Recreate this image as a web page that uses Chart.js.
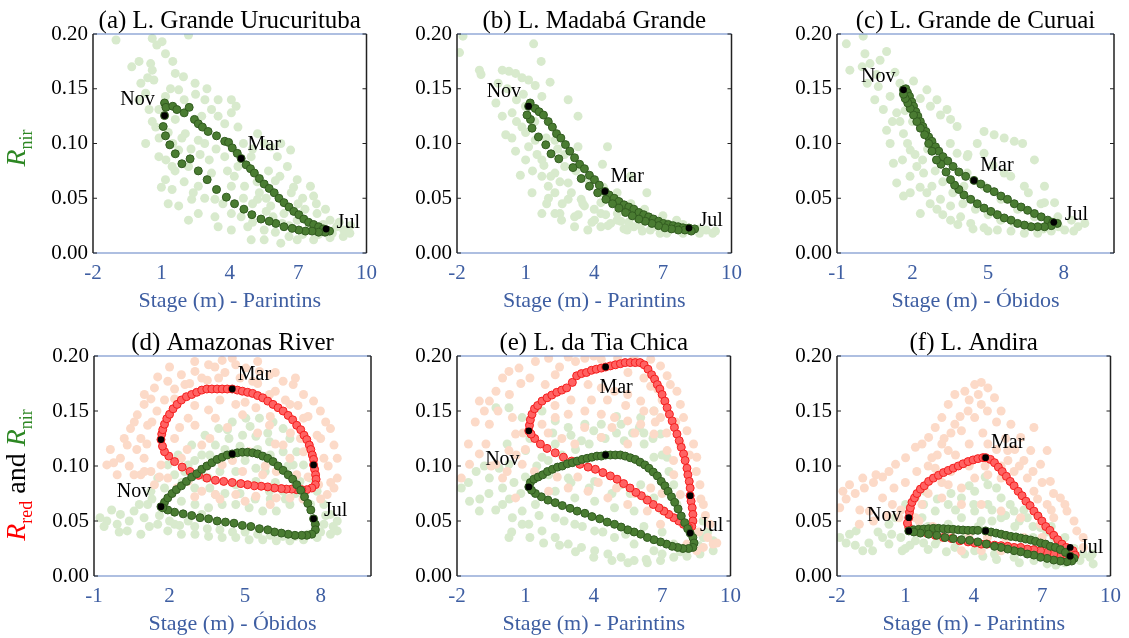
<!DOCTYPE html>
<html>
<head>
<meta charset="utf-8">
<script src="https://cdn.jsdelivr.net/npm/chart.js@4.4.1/dist/chart.umd.min.js"></script>
<style>
html, body { margin: 0; padding: 0; background: #fff; }
#wrap { position: relative; width: 1129px; height: 638px; overflow: hidden; }
canvas { position: absolute; }
</style>
</head>
<body>
<div id="wrap"></div>
<script>
// shared axis ticks
const yTicks = [0, 0.05, 0.10, 0.15, 0.20];
const xTicksParintins = [-2, 1, 4, 7, 10];
const xTicksObidos = [-1, 2, 5, 8];

// (a) L. Grande Urucurituba
const aLoop = [[1.14,0.1255],[1.14,0.137],[1.20,0.133],[1.50,0.134],[1.68,0.131],[2.0,0.128],[2.22,0.133],[2.45,0.122],[2.62,0.118],[2.80,0.115],[3.05,0.111],[3.42,0.107],[3.78,0.102],[3.95,0.101],[4.11,0.096],[4.33,0.091],[4.50,0.0863],[4.72,0.0805],[4.91,0.077],[5.08,0.073],[5.30,0.068],[5.51,0.063],[5.73,0.059],[5.95,0.055],[6.16,0.050],[6.38,0.046],[6.60,0.042],[6.81,0.038],[7.03,0.035],[7.25,0.031],[7.46,0.028],[7.68,0.026],[7.90,0.024],[8.11,0.022],[8.25,0.021],[8.38,0.020],[8.18,0.019],[7.90,0.019],[7.61,0.020],[7.32,0.020],[7.03,0.021],[6.74,0.0225],[6.38,0.024],[6.02,0.027],[5.73,0.029],[5.37,0.031],[4.97,0.035],[4.62,0.040],[4.21,0.045],[3.85,0.051],[3.42,0.058],[3.01,0.067],[2.62,0.075],[2.26,0.086],[1.90,0.0815],[1.61,0.0906],[1.37,0.0988],[1.18,0.107],[1.08,0.1155]];
const aCloud = [[-0.99,0.1945],[0.60,0.196],[1.03,0.193],[2.19,0.199],[0.02,0.175],[0.53,0.173],[0.60,0.167],[0.67,0.158],[0.31,0.146],[1.18,0.182],[1.61,0.164],[1.97,0.161],[2.48,0.155],[2.91,0.140],[3.20,0.131],[3.49,0.125],[4.07,0.128],[4.28,0.134],[2.77,0.125],[2.62,0.103],[2.05,0.109],[1.61,0.122],[0.31,0.100],[1.18,0.067],[1.47,0.058],[1.76,0.043],[2.19,0.030],[2.62,0.036],[3.35,0.049],[3.49,0.024],[4.07,0.021],[4.94,0.012],[5.51,0.012],[6.24,0.009],[6.96,0.012],[7.68,0.012],[8.40,0.014],[8.98,0.015],[9.27,0.018],[7.54,0.061],[7.68,0.052],[6.96,0.067],[6.53,0.079],[6.09,0.088],[6.67,0.094],[5.51,0.100],[6.24,0.100],[5.22,0.109],[4.36,0.115],[3.78,0.118],[4.07,0.140],[3.49,0.140],[1.76,0.094],[2.19,0.079],[2.62,0.061],[3.20,0.073],[3.78,0.088],[4.36,0.079],[4.65,0.061],[4.07,0.061],[5.22,0.049],[5.80,0.043],[6.38,0.036],[6.96,0.030],[7.83,0.036],[8.40,0.030],[8.69,0.024],[3.35,0.033],[4.07,0.036],[4.79,0.024],[5.51,0.021],[2.33,0.049],[1.47,0.079],[0.89,0.088],[0.75,0.115],[0.89,0.131],[0.46,0.131],[0.02,0.140],[1.18,0.143],[1.76,0.149],[4.94,0.088],[5.80,0.097],[7.9,0.017],[8.5,0.018],[9.0,0.021],[7.2,0.017],[6.6,0.015],[6.0,0.019],[5.0,0.028],[4.5,0.033],[5.6,0.038],[6.3,0.027],[7.0,0.045],[7.3,0.040],[6.7,0.055],[6.0,0.066],[1.3,0.11],[1.5,0.10],[1.9,0.105],[2.3,0.095],[2.7,0.09],[3.1,0.085],[3.4,0.095],[2.9,0.10],[1.2,0.085],[1.6,0.075],[2.0,0.065],[2.4,0.055],[2.9,0.05],[3.7,0.045],[3.9,0.075],[4.2,0.07],[4.6,0.05],[5.0,0.045],[5.3,0.055],[5.6,0.05],[5.9,0.033],[6.6,0.025],[7.5,0.022],[8.1,0.026],[8.8,0.028],[9.3,0.025],[5.2,0.065],[5.7,0.075],[6.2,0.07],[6.8,0.06],[7.2,0.05],[7.8,0.045],[8.2,0.04],[4.6,0.1],[5.0,0.095],[0.4,0.16],[0.1,0.155],[-0.3,0.17],[0.8,0.19],[1.5,0.175],[2.5,0.145],[3.0,0.15],[2.0,0.14],[1.4,0.15],[0.6,0.12],[0.9,0.105],[1.3,0.045],[1.0,0.06]];
const aMarks = [[1.14,0.1255],[4.50,0.0863],[8.23,0.0219]];
const aMonths = [['Nov',-0.05,0.140],['Mar',5.51,0.0988],['Jul',9.2,0.028]];

// (b) L. Madabá Grande
const bLoop = [[1.13,0.134],[1.20,0.137],[1.42,0.132],[1.59,0.129],[1.78,0.126],[1.99,0.120],[2.17,0.115],[2.35,0.109],[2.54,0.105],[2.74,0.099],[2.93,0.093],[3.14,0.087],[3.36,0.081],[3.57,0.077],[3.79,0.071],[4.01,0.067],[4.22,0.062],[4.47,0.0562],[4.65,0.053],[4.87,0.050],[5.08,0.047],[5.30,0.044],[5.51,0.042],[5.73,0.040],[5.95,0.037],[6.16,0.035],[6.38,0.033],[6.59,0.031],[6.81,0.029],[7.02,0.027],[7.24,0.026],[7.45,0.025],[7.67,0.024],[7.88,0.023],[8.14,0.0228],[8.39,0.022],[8.24,0.020],[7.96,0.021],[7.67,0.021],[7.38,0.022],[7.09,0.023],[6.81,0.025],[6.52,0.027],[6.23,0.029],[5.95,0.031],[5.66,0.034],[5.37,0.037],[5.08,0.041],[4.80,0.045],[4.51,0.049],[4.15,0.055],[3.79,0.061],[3.43,0.068],[3.07,0.078],[2.45,0.086],[2.11,0.0906],[1.88,0.0988],[1.56,0.106],[1.28,0.114],[1.21,0.122],[1.06,0.126]];
const bCloud = [[-1.74,0.198],[-1.89,0.183],[-1.02,0.167],[-0.95,0.163],[-0.02,0.167],[0.27,0.166],[0.56,0.164],[0.84,0.160],[1.13,0.158],[1.42,0.153],[1.35,0.191],[1.68,0.175],[2.07,0.156],[2.86,0.140],[3.29,0.125],[4.58,0.097],[4.36,0.081],[5.59,0.070],[6.30,0.055],[-0.30,0.137],[-0.02,0.125],[0.13,0.108],[0.56,0.093],[0.77,0.071],[1.28,0.055],[1.71,0.070],[1.92,0.045],[2.28,0.055],[2.50,0.036],[2.86,0.049],[3.14,0.033],[3.57,0.043],[4.01,0.030],[4.29,0.036],[4.72,0.027],[5.16,0.029],[5.73,0.024],[6.45,0.021],[7.17,0.018],[7.88,0.018],[8.60,0.018],[9.18,0.018],[8.89,0.021],[2.86,0.064],[2.28,0.073],[1.71,0.085],[1.13,0.097],[1.42,0.103],[0.84,0.115],[0.41,0.128],[0.99,0.134],[1.71,0.143],[3.43,0.049],[4.29,0.046],[5.01,0.036],[5.73,0.033],[6.45,0.030],[7.17,0.027],[7.88,0.026],[6.88,0.018],[5.44,0.021],[4.29,0.024],[3.72,0.021],[3.14,0.024],[2.57,0.030],[2.28,0.036],[1.99,0.061],[1.71,0.036],[3.29,0.097],[4.29,0.055],[2.28,0.103],[2.71,0.079],[1.5,0.09],[1.8,0.08],[2.1,0.07],[2.5,0.065],[3.0,0.055],[3.5,0.045],[4.0,0.04],[4.5,0.035],[5.0,0.03],[5.5,0.028],[6.0,0.025],[6.6,0.024],[7.3,0.022],[8.0,0.021],[8.6,0.022],[9.3,0.02],[1.0,0.11],[0.6,0.14],[0.2,0.15],[-0.2,0.155],[0.9,0.145],[1.4,0.12],[1.9,0.105],[2.4,0.095],[2.7,0.09],[3.2,0.075],[3.8,0.065],[4.4,0.06],[5.0,0.055],[5.6,0.045],[6.2,0.04],[7.0,0.034],[7.6,0.03],[1.3,0.075],[1.0,0.085],[2.0,0.05],[2.6,0.045],[3.3,0.035],[3.9,0.028],[4.6,0.025],[5.3,0.022],[6.1,0.02],[0.4,0.105],[0.6,0.12]];
const bMarks = [[1.13,0.134],[4.47,0.0562],[8.14,0.0228]];
const bMonths = [['Nov',0.05,0.147],['Mar',5.44,0.070],['Jul',9.11,0.029]];

// (c) L. Grande de Curuai
const cLoop = [[1.64,0.149],[1.73,0.150],[1.80,0.1465],[1.88,0.143],[1.97,0.138],[2.04,0.134],[2.13,0.129],[2.21,0.125],[2.31,0.120],[2.41,0.1155],[2.53,0.111],[2.64,0.106],[2.77,0.102],[2.91,0.097],[3.04,0.093],[3.21,0.088],[3.40,0.084],[3.61,0.079],[3.84,0.074],[4.11,0.070],[4.44,0.0663],[4.71,0.063],[4.97,0.059],[5.24,0.056],[5.51,0.052],[5.77,0.049],[6.04,0.045],[6.31,0.042],[6.57,0.039],[6.84,0.036],[7.11,0.033],[7.37,0.030],[7.57,0.028],[7.75,0.027],[7.51,0.025],[7.24,0.024],[6.97,0.024],[6.71,0.024],[6.44,0.0255],[6.17,0.027],[5.91,0.030],[5.64,0.032],[5.37,0.035],[5.11,0.038],[4.84,0.041],[4.57,0.045],[4.31,0.049],[4.04,0.053],[3.84,0.058],[3.67,0.062],[3.51,0.067],[3.33,0.074],[3.13,0.081],[2.95,0.085],[2.77,0.093],[2.64,0.100],[2.48,0.108],[2.31,0.114],[2.17,0.120],[2.04,0.126],[1.91,0.132],[1.81,0.137],[1.71,0.141],[1.64,0.145]];
const cCloud = [[-0.63,0.191],[0.04,0.198],[-0.49,0.167],[0.11,0.182],[0.31,0.173],[0.71,0.176],[0.97,0.184],[0.57,0.163],[0.64,0.152],[0.84,0.131],[0.97,0.112],[1.11,0.100],[1.24,0.082],[1.37,0.064],[1.64,0.052],[1.91,0.055],[1.11,0.143],[1.37,0.128],[1.64,0.109],[1.91,0.094],[2.17,0.079],[2.44,0.073],[2.77,0.061],[3.11,0.049],[3.51,0.043],[3.91,0.033],[4.31,0.027],[4.84,0.023],[5.37,0.021],[5.91,0.020],[6.44,0.018],[6.97,0.018],[7.51,0.020],[8.04,0.021],[8.57,0.024],[8.84,0.027],[8.31,0.030],[7.64,0.046],[7.24,0.061],[6.84,0.085],[6.37,0.100],[6.04,0.102],[5.64,0.105],[5.24,0.108],[4.84,0.111],[4.57,0.100],[4.17,0.088],[3.77,0.1155],[3.51,0.122],[3.11,0.126],[2.71,0.134],[2.31,0.141],[2.04,0.157],[2.57,0.149],[2.97,0.140],[3.37,0.131],[3.77,0.091],[4.17,0.073],[4.84,0.061],[5.51,0.049],[6.17,0.040],[6.84,0.033],[2.97,0.040],[3.51,0.030],[2.57,0.055],[2.31,0.036],[4.84,0.091],[5.64,0.073],[6.44,0.061],[7.24,0.046],[7.77,0.033],[4.04,0.061],[1.2,0.12],[1.5,0.12],[1.8,0.1],[2.1,0.09],[2.4,0.085],[2.6,0.095],[2.9,0.075],[3.2,0.065],[3.6,0.055],[4.0,0.045],[4.5,0.04],[5.0,0.035],[5.5,0.03],[6.0,0.028],[6.6,0.025],[7.2,0.022],[7.8,0.024],[8.4,0.02],[1.6,0.085],[1.9,0.07],[2.3,0.06],[2.7,0.045],[3.2,0.035],[3.8,0.026],[4.4,0.022],[5.0,0.02],[1.7,0.13],[2.0,0.12],[3.5,0.1],[4.2,0.09],[5.2,0.08],[5.9,0.07],[6.6,0.055],[7.1,0.045],[0.2,0.155],[0.5,0.14],[0.0,0.17],[1.3,0.165],[1.5,0.155]];
const cMarks = [[1.64,0.149],[4.44,0.0663],[7.61,0.028]];
const cMonths = [['Nov',0.64,0.161],['Mar',5.35,0.0796],['Jul',8.51,0.035]];

// (d) Amazonas River
const dRedLoop = [[1.66,0.124],[1.69,0.129],[1.73,0.133],[1.80,0.138],[1.89,0.143],[2.00,0.147],[2.14,0.152],[2.30,0.156],[2.47,0.160],[2.67,0.163],[2.88,0.165],[3.08,0.167],[3.28,0.169],[3.48,0.170],[3.68,0.170],[3.89,0.170],[4.09,0.170],[4.29,0.170],[4.49,0.170],[4.69,0.169],[4.89,0.168],[5.10,0.167],[5.30,0.166],[5.50,0.164],[5.70,0.162],[5.90,0.159],[6.11,0.156],[6.31,0.153],[6.51,0.150],[6.71,0.146],[6.89,0.142],[7.05,0.137],[7.21,0.133],[7.34,0.128],[7.45,0.124],[7.55,0.119],[7.61,0.115],[7.67,0.110],[7.72,0.106],[7.72,0.101],[7.76,0.097],[7.80,0.092],[7.82,0.088],[7.79,0.083],[7.65,0.080],[7.45,0.0785],[7.25,0.0785],[7.05,0.0785],[6.85,0.079],[6.64,0.079],[6.44,0.0795],[6.17,0.080],[5.90,0.081],[5.64,0.0816],[5.37,0.082],[5.10,0.083],[4.83,0.084],[4.49,0.085],[4.15,0.086],[3.82,0.087],[3.48,0.089],[3.15,0.0915],[2.81,0.095],[2.50,0.099],[2.20,0.104],[1.97,0.109],[1.80,0.113],[1.72,0.118]];
const dGreenLoop = [[1.66,0.063],[1.80,0.067],[1.93,0.071],[2.10,0.075],[2.27,0.0785],[2.47,0.082],[2.67,0.086],[2.88,0.090],[3.08,0.093],[3.28,0.097],[3.48,0.100],[3.68,0.103],[3.89,0.106],[4.09,0.108],[4.29,0.110],[4.49,0.111],[4.69,0.112],[4.89,0.1125],[5.10,0.1125],[5.30,0.112],[5.50,0.111],[5.70,0.109],[5.90,0.107],[6.11,0.104],[6.31,0.100],[6.51,0.096],[6.71,0.092],[6.89,0.088],[7.05,0.083],[7.21,0.078],[7.36,0.072],[7.49,0.066],[7.61,0.060],[7.72,0.052],[7.79,0.047],[7.79,0.042],[7.65,0.038],[7.45,0.037],[7.25,0.037],[6.98,0.037],[6.71,0.038],[6.44,0.039],[6.17,0.040],[5.90,0.042],[5.57,0.043],[5.23,0.045],[4.89,0.046],[4.56,0.048],[4.22,0.049],[3.89,0.050],[3.55,0.052],[3.21,0.053],[2.88,0.055],[2.54,0.0565],[2.20,0.058],[1.93,0.060],[1.73,0.062]];
const dRedCloud = [[-0.35,0.115],[-0.22,0.103],[-0.49,0.101],[0.05,0.107],[0.32,0.119],[0.45,0.134],[0.72,0.1465],[0.99,0.156],[1.40,0.171],[1.53,0.181],[1.93,0.177],[2.47,0.183],[3.01,0.186],[3.55,0.192],[4.09,0.196],[4.49,0.198],[4.63,0.192],[5.03,0.189],[5.57,0.186],[5.97,0.183],[6.51,0.177],[6.91,0.174],[7.32,0.165],[7.72,0.159],[7.99,0.150],[8.39,0.134],[8.53,0.119],[8.66,0.107],[8.66,0.089],[8.53,0.080],[8.26,0.074],[7.92,0.083],[8.13,0.107],[7.86,0.128],[7.32,0.1435],[6.78,0.156],[5.97,0.165],[5.30,0.177],[3.28,0.180],[2.61,0.174],[1.13,0.137],[0.86,0.125],[0.99,0.107],[1.26,0.095],[0.86,0.092],[1.93,0.089],[2.74,0.086],[3.28,0.077],[3.82,0.074],[4.63,0.074],[5.43,0.0725],[6.24,0.071],[6.78,0.071],[2.74,0.1435],[2.20,0.125],[3.28,0.119],[4.09,0.101],[4.90,0.095],[5.70,0.092],[6.24,0.095],[6.78,0.107],[6.51,0.119],[5.97,0.137],[4.90,0.1465],[3.82,0.1435],[3.01,0.137],[3.55,0.151],[4.63,0.156],[5.43,0.153],[2.47,0.107],[1.66,0.101],[-0.08,0.092],[0.59,0.092],[1.40,0.083],[2.20,0.161],[5.16,0.113],[7.32,0.113],[7.05,0.092],[3.95,0.180],[1.26,0.161],[0.7,0.115],[1.1,0.12],[1.3,0.14],[1.5,0.15],[1.8,0.16],[2.2,0.17],[2.8,0.175],[3.5,0.178],[4.2,0.185],[4.8,0.18],[5.5,0.175],[6.2,0.168],[6.6,0.16],[7.1,0.155],[7.5,0.145],[8.0,0.125],[8.3,0.1],[8.4,0.085],[8.0,0.07],[7.3,0.07],[6.0,0.065],[5.0,0.068],[4.0,0.07],[3.0,0.072],[2.3,0.08],[1.6,0.09],[1.0,0.095],[0.4,0.1],[0.2,0.125],[0.6,0.14],[1.0,0.165],[2.0,0.19],[3.0,0.195],[3.8,0.19],[5.5,0.195],[6.2,0.185],[7.0,0.18],[8.2,0.14],[2.4,0.135],[3.0,0.155],[4.0,0.16],[5.0,0.158],[6.0,0.145],[6.8,0.13],[7.2,0.125],[4.3,0.135],[3.6,0.125],[2.7,0.115],[5.5,0.13],[6.2,0.12],[7.5,0.09],[3.5,0.1],[4.5,0.105],[5.8,0.1]];
const dGreenCloud = [[-0.76,0.053],[-0.49,0.050],[-0.08,0.047],[0.32,0.041],[0.86,0.038],[0.05,0.056],[0.59,0.059],[1.13,0.065],[0.99,0.053],[1.53,0.047],[1.93,0.041],[2.47,0.038],[3.01,0.038],[3.55,0.036],[4.09,0.035],[4.63,0.035],[5.16,0.033],[5.70,0.033],[6.24,0.032],[6.78,0.032],[7.32,0.033],[7.86,0.035],[8.39,0.038],[8.66,0.041],[8.66,0.050],[8.39,0.056],[8.13,0.065],[7.86,0.077],[7.59,0.089],[7.32,0.101],[7.05,0.113],[6.78,0.125],[6.51,0.134],[6.11,0.140],[5.57,0.1435],[5.03,0.1435],[4.49,0.140],[3.95,0.134],[3.41,0.128],[2.88,0.119],[2.34,0.110],[1.93,0.101],[1.53,0.089],[1.26,0.077],[2.20,0.092],[2.74,0.101],[3.28,0.110],[3.82,0.119],[4.36,0.125],[4.90,0.128],[5.43,0.127],[5.97,0.122],[6.51,0.113],[6.91,0.101],[7.18,0.086],[7.32,0.071],[6.78,0.065],[6.24,0.059],[5.70,0.059],[5.16,0.062],[4.63,0.065],[4.09,0.065],[3.55,0.062],[3.01,0.065],[2.47,0.068],[2.20,0.047],[2.74,0.050],[3.28,0.056],[3.82,0.074],[4.63,0.083],[5.43,0.086],[5.97,0.077],[6.51,0.077],[8.13,0.047],[7.86,0.041],[4.63,0.095],[5.43,0.098],[3.55,0.089],[0.4,0.05],[1.2,0.045],[1.6,0.055],[2.0,0.05],[2.4,0.046],[3.0,0.045],[3.5,0.043],[4.0,0.042],[4.5,0.04],[5.0,0.04],[5.5,0.038],[6.0,0.037],[6.5,0.036],[7.0,0.036],[7.5,0.038],[8.0,0.04],[8.5,0.045],[-0.3,0.06],[0.8,0.065],[1.3,0.07],[1.8,0.08],[2.5,0.085],[3.0,0.08],[3.6,0.08],[4.2,0.075],[4.8,0.075],[5.4,0.07],[6.0,0.07],[6.6,0.07],[7.6,0.065],[8.2,0.055],[3.0,0.105],[3.6,0.11],[4.2,0.115],[4.8,0.118],[5.5,0.115],[6.0,0.11],[4.3,0.133],[5.2,0.136],[5.9,0.13],[6.7,0.1],[7.0,0.075],[2.6,0.095],[3.4,0.09],[4.0,0.095],[5.0,0.105],[5.8,0.095],[6.2,0.085],[-0.6,0.045],[0.0,0.04]];
const dMarks = [[1.66,0.124],[4.49,0.170],[7.72,0.101],[1.66,0.063],[4.49,0.111],[7.72,0.052]];
const dMonths = [['Nov',0.59,0.077],['Mar',5.37,0.183],['Jul',8.60,0.059]];

// (e) L. da Tia Chica
const eRedLoop = [[1.15,0.132],[1.18,0.137],[1.22,0.142],[1.29,0.147],[1.40,0.152],[1.54,0.155],[1.73,0.159],[1.95,0.162],[2.16,0.1645],[2.38,0.167],[2.60,0.169],[2.81,0.171],[3.06,0.176],[3.25,0.182],[3.46,0.184],[3.68,0.185],[3.90,0.187],[4.11,0.188],[4.33,0.189],[4.52,0.190],[4.73,0.191],[4.95,0.192],[5.17,0.193],[5.38,0.194],[5.60,0.194],[5.82,0.194],[6.03,0.194],[6.21,0.192],[6.38,0.188],[6.54,0.183],[6.67,0.179],[6.79,0.174],[6.90,0.170],[7.00,0.165],[7.12,0.159],[7.22,0.153],[7.32,0.147],[7.44,0.141],[7.54,0.135],[7.65,0.129],[7.75,0.123],[7.84,0.117],[7.94,0.111],[8.01,0.105],[8.09,0.098],[8.13,0.092],[8.19,0.086],[8.23,0.080],[8.23,0.073],[8.27,0.068],[8.32,0.062],[8.35,0.056],[8.35,0.050],[8.30,0.045],[8.16,0.044],[7.94,0.047],[7.73,0.050],[7.51,0.053],[7.29,0.056],[7.08,0.059],[6.86,0.062],[6.61,0.065],[6.35,0.069],[6.09,0.073],[5.85,0.076],[5.59,0.080],[5.31,0.084],[5.02,0.088],[4.73,0.091],[4.40,0.094],[4.07,0.097],[3.75,0.099],[3.39,0.1015],[3.03,0.1045],[2.67,0.108],[2.31,0.112],[1.95,0.116],[1.66,0.120],[1.41,0.125],[1.25,0.129]];
const eGreenLoop = [[1.15,0.081],[1.22,0.085],[1.37,0.088],[1.56,0.090],[1.76,0.092],[1.97,0.095],[2.19,0.097],[2.41,0.099],[2.62,0.100],[2.84,0.102],[3.06,0.103],[3.27,0.1045],[3.49,0.106],[3.71,0.107],[3.92,0.108],[4.14,0.109],[4.33,0.109],[4.52,0.110],[4.73,0.110],[4.95,0.110],[5.17,0.110],[5.38,0.109],[5.60,0.1075],[5.82,0.106],[6.03,0.1035],[6.24,0.101],[6.42,0.098],[6.61,0.0945],[6.79,0.091],[6.96,0.086],[7.12,0.082],[7.26,0.077],[7.41,0.072],[7.55,0.067],[7.70,0.061],[7.84,0.0545],[7.99,0.0485],[8.12,0.043],[8.23,0.039],[8.35,0.035],[8.40,0.030],[8.35,0.026],[8.16,0.025],[7.91,0.025],[7.68,0.026],[7.44,0.027],[7.19,0.029],[6.93,0.031],[6.64,0.033],[6.35,0.035],[6.06,0.038],[5.77,0.040],[5.49,0.042],[5.20,0.0445],[4.91,0.047],[4.59,0.049],[4.26,0.052],[3.92,0.054],[3.61,0.057],[3.27,0.059],[2.96,0.0615],[2.62,0.064],[2.31,0.0667],[1.99,0.069],[1.70,0.072],[1.44,0.075],[1.27,0.078]];
const eRedCloud = [[-1.81,0.089],[-1.45,0.1015],[-1.02,0.111],[-0.73,0.120],[-1.02,0.159],[-0.58,0.159],[-0.29,0.168],[0.0,0.180],[0.28,0.186],[0.72,0.189],[1.44,0.195],[2.02,0.198],[2.88,0.199],[3.61,0.198],[4.33,0.197],[5.05,0.198],[5.77,0.199],[6.50,0.197],[6.93,0.191],[7.22,0.182],[7.36,0.174],[7.65,0.168],[7.80,0.156],[7.94,0.144],[8.09,0.132],[8.38,0.120],[8.52,0.108],[8.66,0.083],[8.81,0.065],[9.10,0.047],[9.24,0.029],[8.81,0.026],[8.52,0.023],[6.64,0.129],[6.06,0.138],[5.49,0.141],[4.91,0.144],[4.33,0.147],[3.61,0.150],[2.88,0.147],[2.31,0.144],[1.73,0.138],[6.64,0.150],[6.06,0.159],[5.49,0.165],[4.91,0.168],[4.33,0.171],[3.75,0.174],[6.50,0.1725],[6.93,0.144],[7.22,0.114],[7.51,0.092],[7.80,0.074],[0.43,0.144],[0.57,0.129],[0.28,0.114],[-0.29,0.1015],[0.0,0.089],[0.57,0.071],[0.86,0.1015],[2.02,0.077],[2.88,0.080],[3.75,0.077],[4.62,0.071],[5.49,0.065],[6.35,0.059],[6.93,0.047],[8.09,0.029],[3.17,0.120],[4.33,0.126],[5.49,0.120],[1.87,0.174],[2.31,0.183],[-0.58,0.138],[-1.5,0.12],[-1.2,0.14],[-0.8,0.15],[-0.2,0.15],[0.3,0.165],[0.8,0.175],[1.2,0.18],[2.5,0.19],[3.2,0.195],[4.0,0.2],[5.5,0.185],[6.2,0.18],[6.8,0.17],[7.0,0.16],[7.6,0.14],[7.8,0.12],[8.2,0.11],[8.5,0.095],[8.7,0.07],[8.9,0.055],[9.0,0.035],[9.4,0.03],[8.6,0.04],[0.9,0.13],[1.0,0.115],[0.6,0.11],[0.2,0.095],[-0.5,0.1],[1.4,0.095],[2.4,0.09],[3.3,0.09],[4.2,0.085],[5.0,0.08],[5.8,0.075],[6.5,0.08],[7.0,0.075],[2.3,0.155],[3.0,0.16],[3.9,0.16],[4.6,0.16],[5.4,0.155],[6.2,0.15],[6.7,0.14],[7.2,0.13],[7.5,0.105],[2.0,0.13],[2.6,0.125],[3.6,0.135],[4.8,0.135],[5.8,0.13]];
const eGreenCloud = [[-1.81,0.080],[-1.45,0.068],[-1.02,0.059],[-1.16,0.095],[-0.58,0.089],[-0.15,0.098],[0.0,0.065],[0.43,0.053],[0.86,0.059],[1.15,0.047],[1.73,0.041],[2.31,0.035],[2.88,0.029],[3.46,0.026],[4.04,0.023],[4.62,0.020],[5.20,0.017],[5.77,0.014],[6.35,0.012],[6.93,0.014],[7.51,0.017],[8.09,0.018],[8.66,0.020],[9.24,0.023],[9.24,0.032],[8.81,0.035],[-0.29,0.153],[0.28,0.153],[0.86,0.144],[1.73,0.150],[2.31,0.141],[2.88,0.135],[3.61,0.138],[4.33,0.138],[5.20,0.138],[6.06,0.144],[6.64,0.150],[6.93,0.129],[7.22,0.108],[7.51,0.083],[7.65,0.065],[3.46,0.123],[4.33,0.126],[5.34,0.123],[6.21,0.120],[6.64,0.108],[2.31,0.120],[1.73,0.108],[1.01,0.114],[0.28,0.1015],[2.02,0.092],[2.88,0.089],[4.04,0.086],[5.20,0.083],[6.06,0.083],[6.64,0.071],[5.77,0.059],[4.91,0.062],[4.04,0.068],[3.17,0.071],[2.31,0.077],[1.44,0.065],[2.31,0.053],[3.17,0.047],[4.04,0.041],[4.91,0.035],[5.77,0.029],[6.64,0.023],[7.51,0.029],[0.86,0.047],[0.28,0.035],[0.0,0.08],[0.5,0.085],[1.0,0.09],[1.5,0.1],[2.0,0.105],[2.6,0.11],[3.2,0.115],[3.8,0.12],[4.5,0.125],[5.0,0.13],[5.7,0.13],[6.2,0.13],[6.6,0.125],[7.0,0.11],[7.3,0.095],[-0.6,0.075],[-1.0,0.07],[-0.3,0.06],[0.3,0.07],[0.8,0.075],[0.4,0.04],[1.2,0.035],[1.8,0.03],[2.5,0.028],[3.2,0.022],[4.0,0.017],[4.8,0.014],[5.5,0.012],[6.3,0.015],[7.0,0.02],[7.8,0.022],[8.6,0.028],[9.0,0.04],[8.8,0.05],[1.6,0.055],[2.7,0.05],[3.5,0.045],[4.4,0.04],[5.4,0.038],[6.2,0.045],[7.0,0.04],[3.0,0.085],[3.8,0.08],[4.8,0.075],[5.6,0.075],[6.3,0.07],[7.0,0.06],[2.2,0.13],[3.0,0.128],[4.0,0.132],[5.0,0.145],[6.0,0.135],[1.2,0.125],[0.2,0.12],[-0.8,0.1],[-1.5,0.085]];
const eMarks = [[1.15,0.132],[4.52,0.190],[8.23,0.073],[1.15,0.081],[4.52,0.110],[8.23,0.039]];
const eMonths = [['Nov',-0.01,0.106],['Mar',4.98,0.171],['Jul',9.17,0.0455]];

// (f) L. Andira
const fRedLoop = [[1.15,0.053],[1.18,0.058],[1.22,0.062],[1.29,0.067],[1.40,0.071],[1.51,0.075],[1.66,0.079],[1.83,0.082],[2.02,0.086],[2.23,0.089],[2.45,0.0915],[2.67,0.094],[2.88,0.096],[3.10,0.098],[3.32,0.100],[3.53,0.102],[3.75,0.104],[3.97,0.1055],[4.18,0.1067],[4.40,0.1076],[4.52,0.1076],[4.73,0.106],[4.91,0.103],[5.08,0.099],[5.25,0.095],[5.43,0.0906],[5.60,0.086],[5.77,0.082],[5.95,0.077],[6.12,0.073],[6.29,0.068],[6.47,0.064],[6.64,0.059],[6.82,0.0545],[6.99,0.050],[7.16,0.045],[7.34,0.0415],[7.51,0.037],[7.68,0.033],[7.87,0.029],[8.06,0.026],[8.35,0.023],[8.45,0.019],[8.30,0.017],[8.09,0.018],[7.80,0.019],[7.51,0.020],[7.22,0.0215],[6.93,0.023],[6.64,0.024],[6.35,0.0245],[6.06,0.026],[5.77,0.026],[5.49,0.027],[5.20,0.0276],[4.91,0.028],[4.59,0.029],[4.33,0.029],[4.04,0.030],[3.75,0.031],[3.39,0.032],[3.03,0.034],[2.67,0.035],[2.31,0.037],[1.95,0.039],[1.61,0.040],[1.33,0.041],[1.15,0.044],[1.09,0.048]];
const fGreenLoop = [[1.15,0.041],[1.37,0.042],[1.58,0.0424],[1.80,0.0427],[2.02,0.043],[2.23,0.0433],[2.45,0.0433],[2.67,0.043],[2.88,0.0427],[3.10,0.0424],[3.32,0.042],[3.53,0.0418],[3.75,0.0415],[3.97,0.0415],[4.18,0.0415],[4.52,0.041],[4.76,0.040],[4.98,0.039],[5.20,0.038],[5.41,0.037],[5.63,0.036],[5.85,0.0355],[6.06,0.0345],[6.28,0.0336],[6.50,0.0327],[6.71,0.0315],[6.93,0.030],[7.15,0.029],[7.36,0.027],[7.58,0.026],[7.80,0.024],[8.02,0.0215],[8.23,0.018],[8.40,0.016],[8.30,0.0136],[8.09,0.013],[7.80,0.0136],[7.51,0.0145],[7.22,0.016],[6.93,0.017],[6.64,0.019],[6.35,0.020],[6.06,0.022],[5.77,0.023],[5.49,0.0245],[5.20,0.026],[4.91,0.027],[4.55,0.029],[4.18,0.031],[3.82,0.0324],[3.46,0.033],[3.10,0.034],[2.74,0.035],[2.38,0.037],[2.02,0.038],[1.66,0.039],[1.37,0.040]];
const fRedCloud = [[-1.88,0.062],[-1.74,0.077],[-1.45,0.083],[-0.87,0.089],[-0.29,0.092],[0.28,0.095],[0.57,0.1015],[1.01,0.1075],[1.44,0.117],[1.73,0.120],[2.02,0.126],[2.31,0.135],[2.60,0.144],[2.88,0.156],[3.17,0.165],[3.61,0.168],[4.04,0.174],[4.33,0.176],[4.62,0.171],[4.91,0.162],[5.20,0.150],[5.63,0.138],[6.06,0.126],[6.50,0.114],[6.93,0.1015],[7.36,0.086],[7.80,0.071],[8.09,0.059],[8.52,0.041],[8.81,0.026],[-1.02,0.047],[-0.58,0.059],[0.0,0.071],[0.43,0.065],[0.72,0.053],[2.16,0.1075],[2.88,0.114],[3.46,0.132],[4.04,0.144],[4.33,0.156],[3.75,0.150],[3.17,0.138],[2.60,0.120],[2.31,0.098],[2.88,0.083],[3.46,0.080],[4.04,0.089],[4.62,0.092],[5.20,0.089],[5.77,0.095],[6.35,0.089],[6.64,0.077],[7.22,0.065],[7.51,0.053],[6.93,0.047],[6.06,0.053],[5.20,0.059],[4.33,0.065],[3.46,0.065],[2.60,0.071],[1.73,0.065],[1.44,0.053],[4.33,0.023],[5.20,0.023],[3.46,0.023],[7.22,0.114],[6.64,0.135],[5.49,0.114],[4.62,0.120],[-1.6,0.07],[-1.2,0.075],[-0.8,0.08],[-0.4,0.085],[0.0,0.09],[0.5,0.08],[1.0,0.085],[1.5,0.095],[2.0,0.1],[2.4,0.11],[2.7,0.125],[3.0,0.13],[3.4,0.145],[3.8,0.16],[4.2,0.165],[4.6,0.15],[5.0,0.14],[5.4,0.125],[5.8,0.115],[6.2,0.105],[6.6,0.095],[7.0,0.085],[7.5,0.075],[8.0,0.065],[8.4,0.05],[8.8,0.035],[3.2,0.11],[3.8,0.12],[4.4,0.13],[5.0,0.115],[5.5,0.105],[6.0,0.1],[3.0,0.095],[3.8,0.1],[4.5,0.1],[5.2,0.1],[6.8,0.07],[7.4,0.06],[7.0,0.035],[6.2,0.035],[5.4,0.035],[4.6,0.035],[3.8,0.038],[3.0,0.04],[2.2,0.045],[1.6,0.05],[0.8,0.06],[0.2,0.055],[-0.4,0.05],[-1.0,0.06],[2.6,0.085],[2.0,0.075]];
const fGreenCloud = [[-1.88,0.035],[-1.45,0.038],[-1.16,0.041],[-0.87,0.023],[-0.44,0.023],[0.0,0.035],[0.28,0.047],[0.57,0.053],[1.01,0.065],[1.44,0.071],[1.87,0.077],[0.28,0.029],[0.86,0.023],[1.73,0.053],[2.31,0.059],[2.88,0.065],[3.46,0.071],[4.04,0.077],[4.62,0.083],[5.20,0.071],[4.62,0.065],[4.04,0.059],[3.46,0.053],[2.88,0.047],[2.31,0.041],[5.77,0.059],[6.35,0.053],[6.93,0.044],[7.51,0.035],[5.20,0.053],[4.33,0.050],[8.38,0.017],[8.66,0.014],[9.10,0.017],[9.24,0.011],[7.22,0.011],[6.64,0.014],[5.77,0.017],[4.91,0.020],[4.04,0.023],[3.17,0.026],[2.31,0.029],[1.44,0.032],[8.09,0.023],[-1.6,0.03],[-1.2,0.028],[-0.6,0.03],[-0.2,0.04],[0.4,0.038],[0.8,0.035],[1.2,0.028],[1.8,0.03],[2.4,0.033],[3.0,0.036],[3.6,0.04],[4.2,0.045],[4.8,0.05],[5.4,0.055],[6.0,0.05],[6.6,0.045],[7.2,0.04],[7.8,0.03],[8.4,0.025],[8.8,0.02],[9.2,0.02],[1.2,0.055],[1.8,0.065],[2.4,0.07],[3.0,0.075],[3.8,0.082],[4.5,0.09],[5.0,0.08],[5.6,0.065],[6.2,0.06],[6.8,0.055],[7.4,0.045],[8.0,0.035],[2.0,0.045],[3.2,0.06],[4.0,0.065],[4.8,0.06],[5.8,0.045],[6.6,0.035],[7.6,0.025],[8.0,0.012],[7.6,0.01],[6.0,0.012],[5.0,0.015],[4.4,0.018],[3.6,0.02],[2.8,0.022],[2.0,0.024],[1.0,0.025]];
const fMarks = [[1.15,0.053],[4.52,0.1076],[8.23,0.026],[1.15,0.041],[4.52,0.041],[8.23,0.018]];
const fMonths = [['Nov',0.07,0.0545],['Mar',5.49,0.121],['Jul',9.17,0.026]];

const SERIF = '"Liberation Serif", "Times New Roman", serif';
const BLUE = 'rgb(62,94,162)';
const FRAME_BLUE = 'rgb(95,128,195)';
const TXT_GREEN = 'rgb(45,135,35)';
const TXT_RED = 'rgb(255,0,0)';

const nirLabel = [
  { t: 'R', c: TXT_GREEN, s: 28, i: true },
  { t: 'nir', c: TXT_GREEN, s: 18, sub: true }
];
const redNirLabel = [
  { t: 'R', c: TXT_RED, s: 28, i: true },
  { t: 'red', c: TXT_RED, s: 18, sub: true },
  { t: ' and ', c: '#000', s: 28 },
  { t: 'R', c: TXT_GREEN, s: 28, i: true },
  { t: 'nir', c: TXT_GREEN, s: 18, sub: true }
];

const panels = [
  { title: '(a) L. Grande Urucurituba', xTitle: 'Stage (m) - Parintins', box: [93, 34, 370, 253], xMin: -2, xTicks: xTicksParintins,
    green: aLoop, greenCloud: aCloud, marks: aMarks, months: aMonths, yLabel: nirLabel, yLabelY: 148 },
  { title: '(b) L. Madabá Grande', xTitle: 'Stage (m) - Parintins', box: [457, 34, 735, 253], xMin: -2, xTicks: xTicksParintins,
    green: bLoop, greenCloud: bCloud, marks: bMarks, months: bMonths },
  { title: '(c) L. Grande de Curuai', xTitle: 'Stage (m) - Óbidos', box: [837, 34, 1114, 253], xMin: -1, xTicks: xTicksObidos,
    green: cLoop, greenCloud: cCloud, marks: cMarks, months: cMonths },
  { title: '(d) Amazonas River', xTitle: 'Stage (m) - Óbidos', box: [94, 356, 371, 576], xMin: -1, xTicks: xTicksObidos,
    green: dGreenLoop, greenCloud: dGreenCloud, red: dRedLoop, redCloud: dRedCloud, marks: dMarks, months: dMonths, yLabel: redNirLabel, yLabelY: 475 },
  { title: '(e) L. da Tia Chica', xTitle: 'Stage (m) - Parintins', box: [457, 356, 734, 576], xMin: -2, xTicks: xTicksParintins,
    green: eGreenLoop, greenCloud: eGreenCloud, red: eRedLoop, redCloud: eRedCloud, marks: eMarks, months: eMonths },
  { title: '(f) L. Andira', xTitle: 'Stage (m) - Parintins', box: [837, 356, 1114, 576], xMin: -2, xTicks: xTicksParintins,
    green: fGreenLoop, greenCloud: fGreenCloud, red: fRedLoop, redCloud: fRedCloud, marks: fMarks, months: fMonths }
];

function pts(a) { return a.map(p => ({ x: p[0], y: p[1] })); }

function drawYLabel(ctx, parts, cx, cy) {
  ctx.save();
  ctx.translate(cx, cy);
  ctx.rotate(-Math.PI / 2);
  const fontOf = p => (p.i ? 'italic ' : '') + p.s + 'px ' + SERIF;
  let total = 0;
  parts.forEach(p => { ctx.font = fontOf(p); total += ctx.measureText(p.t).width; });
  let pos = -total / 2;
  ctx.textAlign = 'left';
  ctx.textBaseline = 'alphabetic';
  parts.forEach(p => {
    ctx.font = fontOf(p);
    ctx.fillStyle = p.c;
    ctx.fillText(p.t, pos, p.sub ? 7 : 0);
    pos += ctx.measureText(p.t).width;
  });
  ctx.restore();
}

function framePlugin(p) {
  return {
    id: 'frame',
    afterDraw(chart) {
      const { ctx, chartArea: ca, scales: { x, y } } = chart;
      ctx.save();
      // box: blue top/bottom, dark left/right
      ctx.lineWidth = 1.2;
      ctx.strokeStyle = FRAME_BLUE;
      ctx.beginPath();
      ctx.moveTo(ca.left, ca.top); ctx.lineTo(ca.right, ca.top);
      ctx.moveTo(ca.left, ca.bottom); ctx.lineTo(ca.right, ca.bottom);
      ctx.stroke();
      ctx.lineWidth = 1.5;
      ctx.strokeStyle = '#222';
      ctx.beginPath();
      ctx.moveTo(ca.left, ca.top); ctx.lineTo(ca.left, ca.bottom);
      ctx.moveTo(ca.right, ca.top); ctx.lineTo(ca.right, ca.bottom);
      ctx.stroke();
      // inward ticks on both sides
      ctx.lineWidth = 1;
      ctx.beginPath();
      yTicks.forEach(v => {
        const py = y.getPixelForValue(v);
        ctx.moveTo(ca.left, py); ctx.lineTo(ca.left + 4, py);
        ctx.moveTo(ca.right, py); ctx.lineTo(ca.right - 4, py);
      });
      ctx.stroke();

      const cx = (ca.left + ca.right) / 2;
      ctx.textAlign = 'center';
      ctx.textBaseline = 'alphabetic';
      ctx.fillStyle = '#000';
      ctx.font = '25px ' + SERIF;
      ctx.fillText(p.title, cx, ca.top - 6);

      ctx.fillStyle = BLUE;
      ctx.font = '22px ' + SERIF;
      ctx.fillText(p.xTitle, cx, ca.bottom + 54);

      ctx.fillStyle = '#000';
      ctx.font = '20px ' + SERIF;
      ctx.textBaseline = 'middle';
      p.months.forEach(m => {
        ctx.fillText(m[0], x.getPixelForValue(m[1]), y.getPixelForValue(m[2]));
      });
      ctx.restore();

      if (p.yLabel) {
        drawYLabel(ctx, p.yLabel, 25 - parseFloat(chart.canvas.style.left), p.yLabelY - parseFloat(chart.canvas.style.top));
      }
    }
  };
}

const wrap = document.getElementById('wrap');
panels.forEach((p, i) => {
  const [l, t, r, b] = p.box;
  const xAxisH = i < 3 ? 70 : 62;
  const padTop = 34, padRight = 15, yAxisW = 93;
  const cv = document.createElement('canvas');
  const W = r - l + yAxisW + padRight;
  const H = padTop + (b - t) + xAxisH;
  cv.width = W; cv.height = H;
  cv.style.left = (l - yAxisW) + 'px';
  cv.style.top = (t - padTop) + 'px';
  cv.style.width = W + 'px';
  cv.style.height = H + 'px';
  wrap.appendChild(cv);

  // dataset 0 is painted last (on top)
  const datasets = [
    { data: pts(p.marks), pointRadius: 3.4, backgroundColor: '#000', borderWidth: 0 },
    { data: pts(p.green), pointRadius: 4, backgroundColor: 'rgb(74,124,50)', borderColor: 'rgb(50,92,32)', borderWidth: 1 }
  ];
  if (p.red) datasets.push({ data: pts(p.red), pointRadius: 4, backgroundColor: 'rgb(255,98,98)', borderColor: 'rgb(245,30,30)', borderWidth: 1 });
  if (p.redCloud) datasets.push({ data: pts(p.redCloud), pointRadius: 4.5, backgroundColor: 'rgb(252,218,200)', borderWidth: 0 });
  datasets.push({ data: pts(p.greenCloud), pointRadius: 4.5, backgroundColor: 'rgb(216,234,205)', borderWidth: 0 });

  new Chart(cv, {
    type: 'scatter',
    data: { datasets },
    options: {
      responsive: false,
      animation: false,
      devicePixelRatio: 1,
      events: [],
      layout: { padding: { top: padTop, right: padRight, left: 0, bottom: 0 } },
      plugins: { legend: { display: false }, tooltip: { enabled: false } },
      scales: {
        x: {
          type: 'linear', min: p.xMin, max: 10,
          afterBuildTicks: s => { s.ticks = p.xTicks.map(v => ({ value: v })); },
          afterFit: s => { s.height = xAxisH; },
          grid: { display: false, drawTicks: false },
          border: { display: false },
          ticks: { padding: 8, color: BLUE, font: { family: SERIF, size: 21 }, maxRotation: 0, autoSkip: false, callback: v => String(v) }
        },
        y: {
          type: 'linear', min: 0, max: 0.2,
          afterBuildTicks: s => { s.ticks = yTicks.map(v => ({ value: v })); },
          afterFit: s => { s.width = yAxisW; },
          grid: { display: false, drawTicks: false },
          border: { display: false },
          ticks: { padding: 5, color: '#000', font: { family: SERIF, size: 21 }, autoSkip: false, callback: v => v.toFixed(2) }
        }
      }
    },
    plugins: [framePlugin(p)]
  });
});
</script>
</body>
</html>
